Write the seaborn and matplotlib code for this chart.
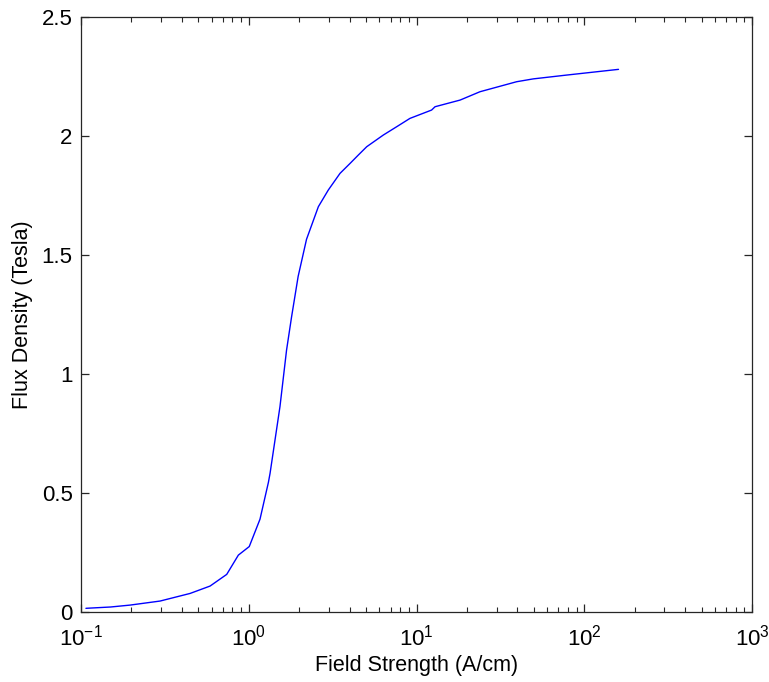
import numpy as np
import pandas as pd
import matplotlib
matplotlib.use("Agg")
import matplotlib.pyplot as plt
import seaborn as sns
from matplotlib.ticker import LogLocator, NullFormatter

field_strength = [0.107, 0.15, 0.196, 0.296, 0.447, 0.588, 0.739, 0.867, 1.007, 1.167, 1.31,
                  1.34, 1.535, 1.68, 1.80, 1.97, 2.21, 2.60, 2.98, 3.50, 4.02, 4.50, 5.05,
                  6.34, 7.62, 9.14, 12.3, 12.9, 18.2, 23.9, 39.5, 49.7, 78.5, 160]
flux_density = [0.0155, 0.021, 0.029, 0.046, 0.078, 0.109, 0.158, 0.239, 0.275, 0.39, 0.545,
                0.583, 0.863, 1.10, 1.24, 1.41, 1.566, 1.703, 1.773, 1.843, 1.885, 1.92, 1.955,
                2.004, 2.039, 2.074, 2.109, 2.123, 2.151, 2.186, 2.228, 2.240, 2.256, 2.28]

df = pd.DataFrame({"H": field_strength, "B": flux_density})

sns.set_style("white")
plt.rcParams['font.family'] = ['Liberation Sans', 'DejaVu Sans']
plt.rcParams['mathtext.fontset'] = 'custom'
plt.rcParams['mathtext.rm'] = 'Liberation Sans'
plt.rcParams['mathtext.it'] = 'Liberation Sans'
plt.rcParams['mathtext.bf'] = 'Liberation Sans'

fig = plt.figure(figsize=(7.69, 6.82), dpi=100)
ax = fig.add_axes([81/769, 70/682, 671/769, 595/682])

sns.lineplot(data=df, x="H", y="B", ax=ax, color="#0000ff", linewidth=1.0, sort=False)
ax.set_xscale("log")
ax.set_xlim(0.1, 1000)
ax.set_ylim(0, 2.5)
ax.set_yticks([0, 0.5, 1, 1.5, 2, 2.5])
ax.set_yticklabels(["0", "0.5", "1", "1.5", "2", "2.5"])
ax.xaxis.set_major_locator(LogLocator(base=10, numticks=10))
ax.xaxis.set_minor_locator(LogLocator(base=10, subs=np.arange(2, 10), numticks=100))
ax.xaxis.set_minor_formatter(NullFormatter())

ax.set_xlabel("Field Strength (A/cm)", fontsize=15.5, labelpad=3, color="black")
ax.set_ylabel("Flux Density (Tesla)", fontsize=15.5, labelpad=6, color="black")

for s in ax.spines.values():
    s.set_visible(True)
    s.set_color("#262626")
    s.set_linewidth(0.9)

ax.tick_params(which="both", direction="in", top=True, right=True, bottom=True, left=True,
               colors="#262626", labelcolor="black")
ax.tick_params(which="major", length=6, width=0.9, labelsize=16)
ax.tick_params(axis="x", which="major", pad=9)
ax.tick_params(axis="y", which="major", pad=6)
ax.tick_params(which="minor", length=3.5, width=0.8)

fig.savefig("out.png", dpi=100, facecolor="white")
